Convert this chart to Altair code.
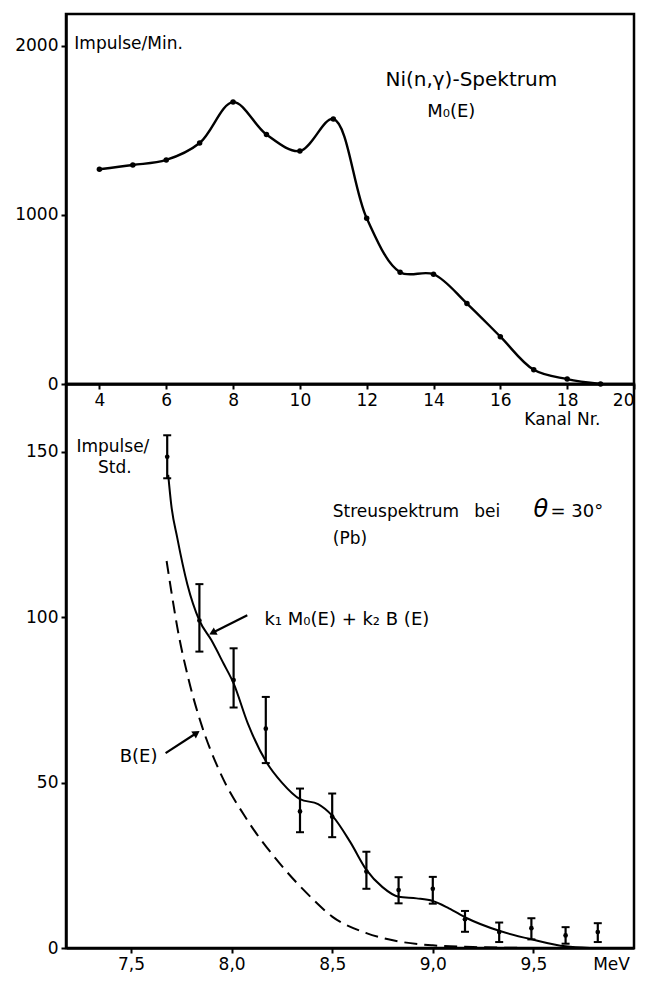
import altair as alt
import pandas as pd

FONT = "DejaVu Sans"

# ---------------- top panel: Ni(n,gamma) spectrum ----------------
kanal = [4, 5, 6, 7, 8, 9, 10, 11, 12, 13, 14, 15, 16, 17, 18, 19]
impulse_min = [1270, 1295, 1325, 1425, 1667, 1475, 1378, 1567, 980, 661, 649, 476, 280, 84, 29, 0]

top_x_ticks = [4, 6, 8, 10, 12, 14, 16, 18, 20]
top_y_ticks = [0, 1000, 2000]

# ---------------- bottom panel: scattering spectrum ----------------
energie = [7.68, 7.84, 8.01, 8.17, 8.34, 8.50, 8.67, 8.83, 9.00, 9.16, 9.33, 9.49, 9.66, 9.82]
impulse_std = [148.5, 99.0, 81.0, 66.3, 41.3, 39.7, 23.1, 17.5, 17.9, 8.7, 4.8, 6.0, 3.8, 4.8]
fehler_oben = [155, 110, 90.6, 75.9, 48.2, 46.7, 29.1, 21.4, 21.5, 11.2, 7.7, 9.0, 6.3, 7.5]
fehler_unten = [142, 89.6, 72.7, 55.9, 35.0, 33.5, 17.9, 13.5, 13.4, 4.9, 1.8, 2.6, 1.3, 1.8]

# fitted curve k1 M0(E) + k2 B(E)
fit_e = [7.685, 7.70, 7.73, 7.78, 7.84, 7.90, 7.96, 8.01, 8.08, 8.17, 8.25, 8.34, 8.43, 8.50,
         8.59, 8.67, 8.75, 8.83, 8.92, 9.00, 9.08, 9.17, 9.33, 9.50, 9.66, 9.78]
fit_v = [143, 134, 124, 110, 99, 93, 86, 80, 68, 56.5, 50, 45, 43.5, 40,
         32, 23.6, 18.4, 15.5, 15.0, 14.2, 12, 9, 5.2, 2.5, 0.5, 0]

# background B(E) (dashed)
b_e = [7.677, 7.70, 7.73, 7.787, 7.853, 7.936, 8.08, 8.24, 8.40, 8.50, 8.67, 8.83, 9.0, 9.2, 9.5]
b_v = [117, 108, 97, 81, 67, 54, 38.5, 25.5, 15, 9.5, 4.5, 2.0, 0.8, 0.3, 0]

bot_x_ticks = [7.5, 8.0, 8.5, 9.0, 9.5]
bot_y_ticks = [0, 50, 100, 150]

TOP_H = 370
BOT_H = 564
W = 568

# ---------------- scales / axes ----------------
xs_top = alt.Scale(domain=[3, 20], nice=False, zero=False)
ys_top = alt.Scale(domain=[0, 2188], nice=False)
xs_bot = alt.Scale(domain=[7.177, 10.0], nice=False, zero=False)
ys_bot = alt.Scale(domain=[0, 170.5], nice=False)

top_x_axis = alt.Axis(values=top_x_ticks, title="Kanal Nr.", titleX=534, titleY=27,
                      titleAlign="right", titleBaseline="top", labelFlush=True,
                      labelOverlap=False, grid=False, labelPadding=3, format="d")
top_y_axis = alt.Axis(values=top_y_ticks, title="", grid=False, labelPadding=3, format="d")
bot_x_axis = alt.Axis(values=bot_x_ticks, title="MeV", titleX=545, titleY=8,
                      titleAlign="center", titleBaseline="top", labelFlush=False,
                      labelOverlap=False, grid=False, labelPadding=3,
                      labelExpr="replace(format(datum.value, '.1f'), '.', ',')")
bot_y_axis = alt.Axis(values=bot_y_ticks, title="", grid=False, labelPadding=3, format="d")

# ---------------- top chart ----------------
top_df = pd.DataFrame({"kanal": kanal, "impulse": impulse_min})
top_base = alt.Chart(top_df)
top_line = top_base.mark_line(interpolate="catmull-rom", color="black", strokeWidth=2.4).encode(
    x=alt.X("kanal:Q", scale=xs_top, axis=top_x_axis),
    y=alt.Y("impulse:Q", scale=ys_top, axis=top_y_axis),
)
top_pts = top_base.mark_circle(size=30, color="black", opacity=1).encode(
    x=alt.X("kanal:Q", scale=xs_top), y=alt.Y("impulse:Q", scale=ys_top)
)

top_txt_left = pd.DataFrame({"x": [3.25], "y": [2012], "t": ["Impulse/Min."]})
top_txt_center = pd.DataFrame({"x": [15.13, 14.53], "y": [1800, 1606],
                               "t": ["Ni(n,γ)-Spektrum", "M₀(E)"], "s": [20, 18]})
top_t1 = alt.Chart(top_txt_left).mark_text(align="left", baseline="middle", font=FONT,
                                           fontSize=17, color="black").encode(
    x=alt.X("x:Q", scale=xs_top), y=alt.Y("y:Q", scale=ys_top), text="t:N")
top_t2 = alt.Chart(top_txt_center).mark_text(align="center", baseline="middle", font=FONT,
                                             color="black").encode(
    x=alt.X("x:Q", scale=xs_top), y=alt.Y("y:Q", scale=ys_top), text="t:N",
    size=alt.Size("s:Q", scale=None))

top = alt.layer(top_line, top_pts, top_t1, top_t2).properties(width=W, height=TOP_H)

# ---------------- bottom chart ----------------
meas = pd.DataFrame({"e": energie, "v": impulse_std, "hi": fehler_oben, "lo": fehler_unten})
mb = alt.Chart(meas)
err = mb.mark_rule(color="black", strokeWidth=2.2).encode(
    x=alt.X("e:Q", scale=xs_bot, axis=bot_x_axis),
    y=alt.Y("lo:Q", scale=ys_bot, axis=bot_y_axis), y2="hi:Q")
cap_hi = mb.mark_tick(orient="horizontal", size=8, thickness=2, color="black", opacity=1).encode(
    x=alt.X("e:Q", scale=xs_bot), y=alt.Y("hi:Q", scale=ys_bot))
cap_lo = mb.mark_tick(orient="horizontal", size=8, thickness=2, color="black", opacity=1).encode(
    x=alt.X("e:Q", scale=xs_bot), y=alt.Y("lo:Q", scale=ys_bot))
pts = mb.mark_circle(size=22, color="black", opacity=1).encode(
    x=alt.X("e:Q", scale=xs_bot), y=alt.Y("v:Q", scale=ys_bot))

fit_line = alt.Chart(pd.DataFrame({"e": fit_e, "v": fit_v})).mark_line(
    interpolate="monotone", color="black", strokeWidth=2).encode(
    x=alt.X("e:Q", scale=xs_bot), y=alt.Y("v:Q", scale=ys_bot))
b_line = alt.Chart(pd.DataFrame({"e": b_e, "v": b_v})).mark_line(
    interpolate="monotone", color="black", strokeWidth=2, strokeDash=[13, 7]).encode(
    x=alt.X("e:Q", scale=xs_bot), y=alt.Y("v:Q", scale=ys_bot))

# annotation arrows
arrows = pd.DataFrame({"x1": [8.078, 7.672], "y1": [100.6, 58.9],
                       "x2": [7.905, 7.826], "y2": [95.3, 65.0],
                       "ang": [243, 56]})
arrow_lines = alt.Chart(arrows).mark_rule(color="black", strokeWidth=2.2).encode(
    x=alt.X("x1:Q", scale=xs_bot), y=alt.Y("y1:Q", scale=ys_bot), x2="x2:Q", y2="y2:Q")
arrow_heads = alt.Chart(arrows).mark_point(shape="triangle-up", filled=True, size=70,
                                           color="black", opacity=1).encode(
    x=alt.X("x2:Q", scale=xs_bot), y=alt.Y("y2:Q", scale=ys_bot),
    angle=alt.Angle("ang:Q", scale=None))

txt_left = pd.DataFrame({
    "x": [8.503, 9.206, 9.585, 8.503, 8.163, 7.444],
    "y": [131.8, 131.8, 131.8, 123.6, 99.1, 57.7],
    "t": ["Streuspektrum", "bei", "= 30°", "(Pb)", "k₁ M₀(E) + k₂ B (E)", "B(E)"],
    "s": [17, 17, 18, 17, 18, 18],
})
txt_center = pd.DataFrame({"x": [7.41, 7.42], "y": [151.5, 145.0], "t": ["Impulse/", "Std."]})
t_left = alt.Chart(txt_left).mark_text(align="left", baseline="middle", font=FONT,
                                       color="black").encode(
    x=alt.X("x:Q", scale=xs_bot), y=alt.Y("y:Q", scale=ys_bot), text="t:N",
    size=alt.Size("s:Q", scale=None))
t_center = alt.Chart(txt_center).mark_text(align="center", baseline="middle", font=FONT,
                                           fontSize=17, color="black").encode(
    x=alt.X("x:Q", scale=xs_bot), y=alt.Y("y:Q", scale=ys_bot), text="t:N")
theta = alt.Chart(pd.DataFrame({"x": [9.50], "y": [132.5], "t": ["θ"]})).mark_text(
    align="left", baseline="middle", font=FONT, fontSize=24, fontStyle="italic",
    color="black").encode(
    x=alt.X("x:Q", scale=xs_bot), y=alt.Y("y:Q", scale=ys_bot), text="t:N")

bottom = alt.layer(err, cap_hi, cap_lo, pts, fit_line, b_line, arrow_lines, arrow_heads,
                   t_left, t_center, theta).properties(width=W, height=BOT_H)

chart = alt.vconcat(top, bottom, spacing=0, bounds="flush").properties(
    padding={"left": 5, "top": 4, "right": 0, "bottom": 0},
    background="white",
).configure_view(
    stroke="black", strokeWidth=2.5
).configure_axis(
    domainColor="black", domainWidth=2.5, tickColor="black", tickWidth=2, tickSize=5,
    labelColor="black", labelFont=FONT, labelFontSize=17,
    titleColor="black", titleFont=FONT, titleFontSize=17, titleFontWeight="normal",
)

chart.save("out.html", embed_options={"renderer": "svg", "actions": False})
